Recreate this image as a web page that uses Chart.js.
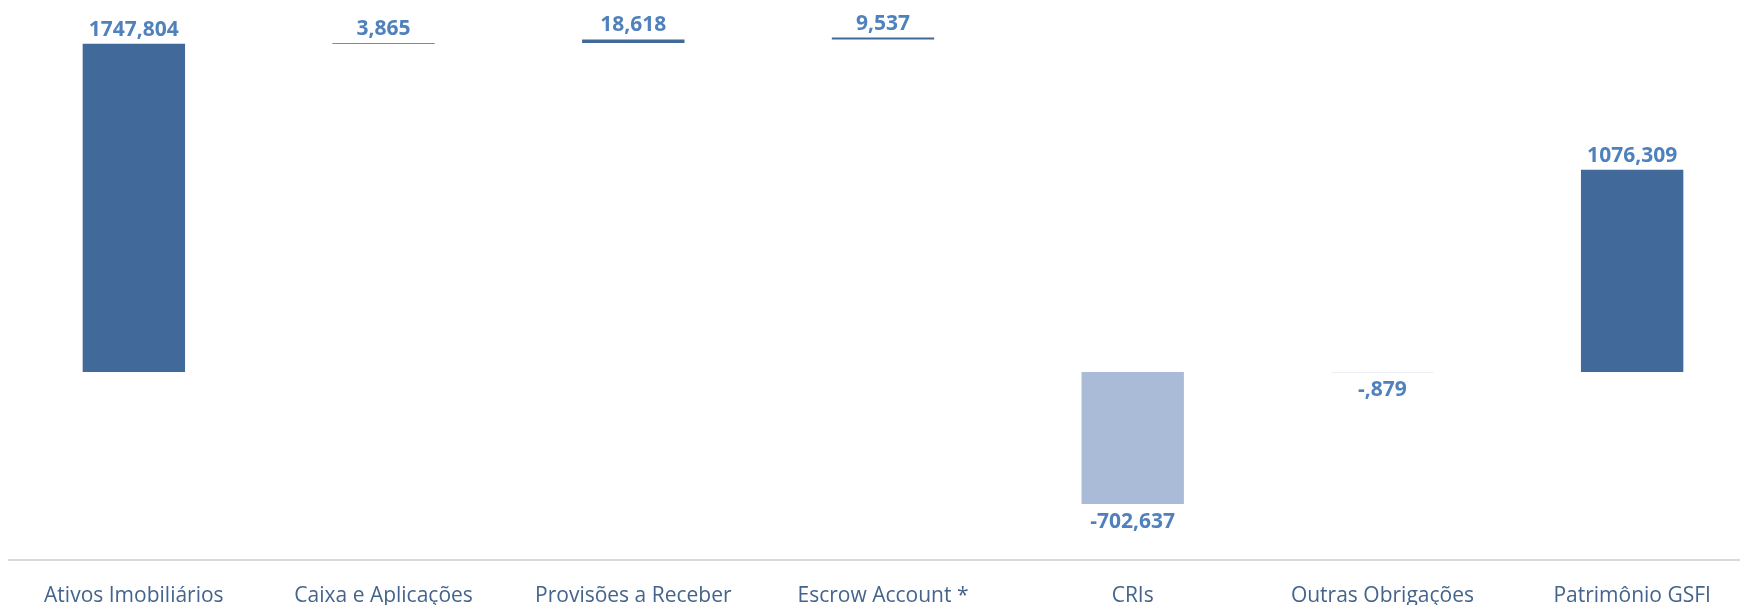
<!DOCTYPE html>
<html>
<head>
<meta charset="utf-8">
<script src="https://cdn.jsdelivr.net/npm/chart.js@4.4.1/dist/chart.umd.min.js"></script>
<style>
  html, body { margin: 0; padding: 0; background: #ffffff; overflow: hidden; }
  #wrap { width: 1758px; height: 605px; }
  canvas { display: block; }
</style>
</head>
<body>
<div id="wrap"><canvas id="c" width="1758" height="605"></canvas></div>
<script>
const categories = ["Ativos Imobiliários", "Caixa e Aplicações", "Provisões a Receber", "Escrow Account *", "CRIs", "Outras Obrigações", "Patrimônio GSFI"];
const barStart = [0, 1747.804, 1751.669, 1770.287, 0, 0, 0];
const barValue = [1747.804, 3.865, 18.618, 9.537, -702.637, -0.879, 1076.309];
const valueLabels = ["1747,804", "3,865", "18,618", "9,537", "-702,637", "-,879", "1076,309"];
const yMin = -1000;
const yMax = 1980;

const positiveColor = '#41699A';
const negativeColor = '#AABBD7';

const floatingData = barStart.map((s, i) => [s, s + barValue[i]]);
const colors = barValue.map(v => v >= 0 ? positiveColor : negativeColor);

const labelPlugin = {
  id: 'valueLabels',
  afterDatasetsDraw(chart) {
    const ctx = chart.ctx;
    const meta = chart.getDatasetMeta(0);
    ctx.save();
    ctx.font = 'bold 21px "Open Sans"';
    ctx.fillStyle = '#4F81BD';
    ctx.textAlign = 'center';
    ctx.textBaseline = 'alphabetic';
    meta.data.forEach((el, i) => {
      const top = Math.min(el.y, el.base);
      const bottom = Math.max(el.y, el.base);
      if (barValue[i] >= 0) {
        ctx.fillText(valueLabels[i], el.x, top - 8);
      } else {
        ctx.fillText(valueLabels[i], el.x, bottom + 23.5);
      }
    });
    ctx.restore();
  }
};

new Chart(document.getElementById('c'), {
  type: 'bar',
  data: {
    labels: categories,
    datasets: [{
      data: floatingData,
      backgroundColor: colors,
      borderWidth: 0,
      barPercentage: 0.41,
      categoryPercentage: 1.0
    }]
  },
  options: {
    responsive: false,
    animation: false,
    devicePixelRatio: 1,
    layout: { padding: { left: 9, right: 1, top: 0, bottom: 0 } },
    plugins: {
      legend: { display: false },
      tooltip: { enabled: false }
    },
    scales: {
      x: {
        grid: { display: false, drawTicks: false },
        border: { display: true, color: '#D9D9D9', width: 2 },
        ticks: {
          color: '#44648C',
          padding: 23,
          font: { family: '"Open Sans"', size: 21 },
          maxRotation: 0,
          autoSkip: false
        },
        afterFit(scale) { scale.height = 45; }
      },
      y: {
        display: false,
        min: yMin,
        max: yMax,
        grid: { display: false }
      }
    }
  },
  plugins: [labelPlugin]
});
</script>
</body>
</html>
